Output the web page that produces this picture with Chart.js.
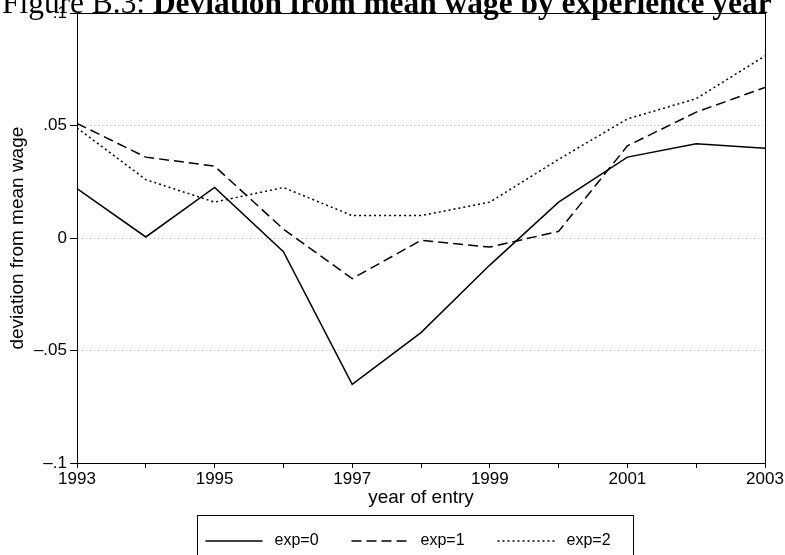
<!DOCTYPE html>
<html>
<head>
<meta charset="utf-8">
<script src="https://cdn.jsdelivr.net/npm/chart.js@4.4.0/dist/chart.umd.min.js"></script>
<style>
  html, body { margin: 0; padding: 0; background: #fff; }
  #devchart { display: block; }
</style>
</head>
<body>
<canvas id="devchart" width="785" height="555"></canvas>
<script>
// Data
var years = [1993, 1994, 1995, 1996, 1997, 1998, 1999, 2000, 2001, 2002, 2003];
var exp0 = [0.022, 0.0005, 0.0225, -0.006, -0.065, -0.042, -0.012, 0.016, 0.036, 0.042, 0.040];
var exp1 = [0.051, 0.036, 0.032, 0.004, -0.018, -0.001, -0.004, 0.003, 0.041, 0.056, 0.067];
var exp2 = [0.049, 0.026, 0.016, 0.0225, 0.010, 0.010, 0.016, 0.035, 0.053, 0.062, 0.081];
var seriesNames = ["exp=0", "exp=1", "exp=2"];
var yTicks = [-0.1, -0.05, 0, 0.05, 0.1];
var yTickLabels = ["\u2013.1", "\u2013.05", "0", ".05", ".1"];
var xLabelYears = [1993, 1995, 1997, 1999, 2001, 2003];
var titleLead = "Figure B.3: ";
var titleMain = "Deviation from mean wage by experience year";

function toPoints(vals) {
  return years.map(function (yr, i) { return { x: yr, y: vals[i] }; });
}

var sansFont = "'Liberation Sans', Arial, sans-serif";
var serifFont = "'Liberation Serif', 'DejaVu Serif', serif";

// title (cut off at the top), frame around the plot and the boxed legend
var decorations = {
  id: "decorations",
  afterDraw: function (chart) {
    var ctx = chart.ctx;
    var area = chart.chartArea;
    ctx.save();

    // frame
    ctx.strokeStyle = "#000";
    ctx.lineWidth = 1;
    ctx.setLineDash([]);
    ctx.strokeRect(Math.round(area.left) + 0.5, Math.round(area.top) + 0.5,
      Math.round(area.right - area.left), Math.round(area.bottom - area.top));

    // title: scale the font so the line fills the width
    var size = 24;
    ctx.font = size + "px " + serifFont;
    var w1 = ctx.measureText(titleLead).width;
    ctx.font = "bold " + size + "px " + serifFont;
    var w2 = ctx.measureText(titleMain).width;
    size = size * 770 / (w1 + w2);
    ctx.fillStyle = "#000";
    ctx.textBaseline = "alphabetic";
    ctx.textAlign = "left";
    ctx.font = size + "px " + serifFont;
    ctx.fillText(titleLead, 2, 13);
    var lead = ctx.measureText(titleLead).width;
    ctx.font = "bold " + size + "px " + serifFont;
    ctx.fillText(titleMain, 2 + lead, 13);

    // legend box under the plot
    var cx = (area.left + area.right) / 2;
    var boxW = 436;
    var boxL = Math.round(cx - 224) + 0.5;
    var boxT = 515.5;
    ctx.lineWidth = 1;
    ctx.strokeRect(boxL, boxT, boxW, 60);

    var ly = 541;
    ctx.font = "16px " + sansFont;
    ctx.textBaseline = "middle";
    chart.data.datasets.forEach(function (ds, i) {
      var ix = boxL + 8 + i * 146;
      ctx.beginPath();
      ctx.setLineDash(ds.borderDash || []);
      ctx.lineWidth = ds.borderWidth;
      ctx.moveTo(ix, ly);
      ctx.lineTo(ix + 57, ly);
      ctx.stroke();
      ctx.setLineDash([]);
      ctx.fillText(ds.label, ix + 69, ly);
    });
    ctx.restore();
  }
};

var ctx = document.getElementById("devchart").getContext("2d");

var devChart = new Chart(ctx, {
  type: "line",
  data: {
    datasets: [
      { label: seriesNames[0], data: toPoints(exp0), borderColor: "#000", borderWidth: 1.5, borderDash: [], pointRadius: 0, fill: false, tension: 0 },
      { label: seriesNames[1], data: toPoints(exp1), borderColor: "#000", borderWidth: 1.5, borderDash: [10, 5], pointRadius: 0, fill: false, tension: 0 },
      { label: seriesNames[2], data: toPoints(exp2), borderColor: "#000", borderWidth: 1.5, borderDash: [2, 3], pointRadius: 0, fill: false, tension: 0 }
    ]
  },
  options: {
    responsive: false,
    animation: false,
    devicePixelRatio: 1,
    layout: { padding: { top: 13, right: 20, bottom: 42, left: 0 } },
    plugins: {
      legend: { display: false },
      tooltip: { enabled: false }
    },
    scales: {
      x: {
        type: "linear",
        min: 1993,
        max: 2003,
        afterBuildTicks: function (scale) {
          scale.ticks = years.map(function (y) { return { value: y }; });
        },
        afterFit: function (scale) { scale.height = 50; },
        ticks: {
          autoSkip: false,
          maxRotation: 0,
          padding: 1,
          color: "#000",
          font: { family: sansFont, size: 17 },
          callback: function (v) { return xLabelYears.indexOf(v) >= 0 ? String(v) : ""; }
        },
        grid: { drawOnChartArea: false, drawTicks: true, tickLength: 5, tickColor: "#000" },
        border: { display: true, color: "#000", width: 1 },
        title: { display: true, text: "year of entry", color: "#000", font: { family: sansFont, size: 19 }, padding: { top: 0, bottom: 4 } }
      },
      y: {
        min: -0.1,
        max: 0.1,
        afterBuildTicks: function (scale) {
          scale.ticks = yTicks.map(function (v) { return { value: v }; });
        },
        afterFit: function (scale) { scale.width = 77; },
        ticks: {
          padding: 3,
          color: "#000",
          font: { family: sansFont, size: 17 },
          callback: function (v) {
            var i = yTicks.findIndex(function (t) { return Math.abs(t - v) < 1e-9; });
            return i >= 0 ? yTickLabels[i] : "";
          }
        },
        grid: {
          color: function (c) {
            return c.tick && Math.abs(Math.abs(c.tick.value) - 0.1) < 1e-9 ? "rgba(0,0,0,0)" : "#b4b4b4";
          },
          lineWidth: 1,
          tickLength: 7,
          tickColor: "#000"
        },
        border: { display: true, color: "#000", width: 1, dash: [1, 3] },
        title: { display: true, text: "deviation from mean wage", color: "#000", font: { family: sansFont, size: 19 }, padding: { top: 6, bottom: 0 } }
      }
    }
  },
  plugins: [decorations]
});
</script>
</body>
</html>
